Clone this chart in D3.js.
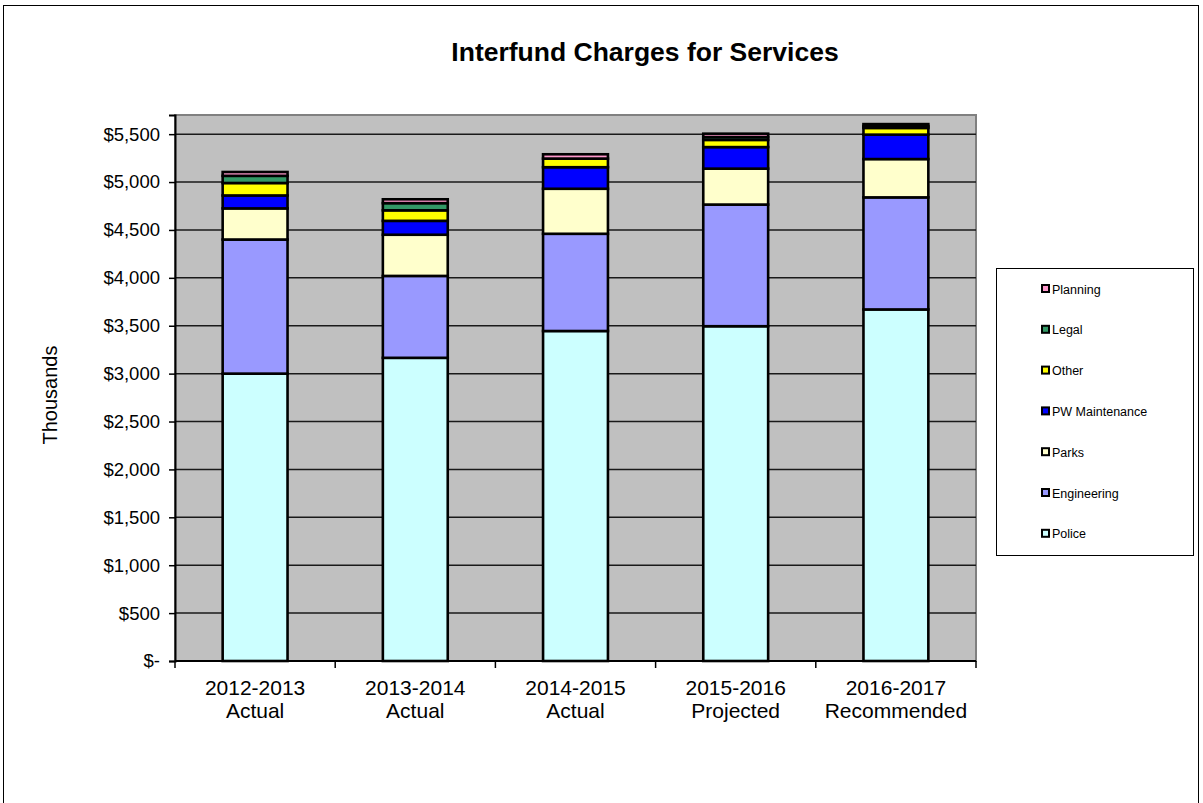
<!DOCTYPE html>
<html>
<head>
<meta charset="utf-8">
<script src="https://cdn.jsdelivr.net/npm/d3@7"></script>
<style>
  body { margin: 0; background: #fff; }
  text { font-family: "Liberation Sans", Arial, sans-serif; }
</style>
</head>
<body>
<div class="chart"></div>
<script>
// Chart data (thousands of dollars)
var categories = ["2012-2013|Actual", "2013-2014|Actual", "2014-2015|Actual", "2015-2016|Projected", "2016-2017|Recommended"];
var seriesNames = ["Police", "Engineering", "Parks", "PW Maintenance", "Other", "Legal", "Planning"];
var police = [3000, 3165, 3445, 3495, 3670];
var engineering = [1400, 855, 1015, 1270, 1170];
var parks = [325, 430, 470, 375, 400];
var pwMaintenance = [135, 145, 225, 225, 255];
var other = [130, 110, 90, 75, 70];
var legal = [75, 75, 0, 30, 20];
var planning = [40, 40, 45, 35, 20];
var yTicks = [0, 500, 1000, 1500, 2000, 2500, 3000, 3500, 4000, 4500, 5000, 5500];

var colors = {
  "Police": "#CCFFFF",
  "Engineering": "#9999FF",
  "Parks": "#FFFFCC",
  "PW Maintenance": "#0000FF",
  "Other": "#FFFF00",
  "Legal": "#339966",
  "Planning": "#FF99CC"
};

var svgWidth = 1203;
var svgHeight = 803;

var plot = { left: 175, right: 976, top: 115, bottom: 661 };

var svg = d3.select(".chart")
  .append("svg")
  .attr("width", svgWidth)
  .attr("height", svgHeight);

// outer frame
svg.append("rect")
  .attr("x", 3.5)
  .attr("y", 5.5)
  .attr("width", 1195)
  .attr("height", 810)
  .attr("fill", "none")
  .attr("stroke", "#000")
  .attr("stroke-width", 1);

// build table for the stack
var seriesValues = [police, engineering, parks, pwMaintenance, other, legal, planning];
var table = categories.map(function (c, i) {
  var row = { category: c };
  seriesNames.forEach(function (s, j) { row[s] = seriesValues[j][i]; });
  return row;
});

var stacked = d3.stack().keys(seriesNames)(table);

var xBand = d3.scaleBand()
  .domain(categories)
  .range([plot.left, plot.right])
  .padding(0);

var yLinearScale = d3.scaleLinear()
  .domain([0, 5700])
  .range([plot.bottom, plot.top]);

// plot area
svg.append("rect")
  .attr("x", plot.left)
  .attr("y", plot.top)
  .attr("width", plot.right - plot.left)
  .attr("height", plot.bottom - plot.top)
  .attr("fill", "#C0C0C0")
  .attr("stroke", "#808080")
  .attr("stroke-width", 2);

// gridlines
svg.append("g")
  .selectAll("line")
  .data(yTicks.slice(1))
  .enter()
  .append("line")
  .attr("x1", plot.left)
  .attr("x2", plot.right)
  .attr("y1", d => yLinearScale(d))
  .attr("y2", d => yLinearScale(d))
  .attr("stroke", "#1a1a1a")
  .attr("stroke-width", 1.5);

// bars
var barWidth = xBand.bandwidth() * 0.405;
svg.append("g")
  .selectAll("g")
  .data(stacked)
  .enter()
  .append("g")
  .attr("fill", d => colors[d.key])
  .selectAll("rect")
  .data(d => d)
  .enter()
  .append("rect")
  .attr("x", d => xBand(d.data.category) + (xBand.bandwidth() - barWidth) / 2)
  .attr("y", d => yLinearScale(d[1]))
  .attr("width", barWidth)
  .attr("height", d => yLinearScale(d[0]) - yLinearScale(d[1]))
  .attr("stroke", "#000")
  .attr("stroke-width", 2.6);

// y axis
var leftAxis = d3.axisLeft(yLinearScale)
  .tickValues(yTicks)
  .tickSize(6)
  .tickPadding(9)
  .tickFormat(d => d === 0 ? "$-" : "$" + d3.format(",")(d));

var yAxisG = svg.append("g")
  .attr("transform", `translate(${plot.left}, 0)`)
  .call(leftAxis);
yAxisG.select(".domain").attr("stroke", "#000").attr("stroke-width", 2);
yAxisG.selectAll(".tick line").attr("stroke", "#000").attr("stroke-width", 1.5);
yAxisG.selectAll(".tick text")
  .attr("font-size", "18.5px")
  .attr("fill", "#000")
  .style("font-family", "'Liberation Sans', Arial, sans-serif");

// x axis
svg.append("line")
  .attr("x1", plot.left)
  .attr("x2", plot.right)
  .attr("y1", plot.bottom)
  .attr("y2", plot.bottom)
  .attr("stroke", "#000")
  .attr("stroke-width", 2);

var xTickPos = categories.map(c => xBand(c)).concat([plot.right]);
svg.append("g")
  .selectAll("line")
  .data(xTickPos)
  .enter()
  .append("line")
  .attr("x1", d => d)
  .attr("x2", d => d)
  .attr("y1", plot.bottom)
  .attr("y2", plot.bottom + 7)
  .attr("stroke", "#000")
  .attr("stroke-width", 1.5);

var xLabels = svg.append("g")
  .selectAll("text")
  .data(categories)
  .enter()
  .append("text")
  .attr("text-anchor", "middle")
  .attr("font-size", "21px")
  .attr("fill", "#000");
xLabels.append("tspan")
  .attr("x", d => xBand(d) + xBand.bandwidth() / 2)
  .attr("y", 695)
  .text(d => d.split("|")[0]);
xLabels.append("tspan")
  .attr("x", d => xBand(d) + xBand.bandwidth() / 2)
  .attr("y", 718)
  .text(d => d.split("|")[1]);

// axis title
svg.append("text")
  .attr("transform", "rotate(-90)")
  .attr("x", -395)
  .attr("y", 57)
  .attr("text-anchor", "middle")
  .attr("font-size", "20px")
  .text("Thousands");

// chart title
svg.append("text")
  .attr("x", 645)
  .attr("y", 61)
  .attr("text-anchor", "middle")
  .attr("font-size", "26.5px")
  .attr("font-weight", "bold")
  .text("Interfund Charges for Services");

// legend
var legend = svg.append("g");
legend.append("rect")
  .attr("x", 996.5)
  .attr("y", 268.5)
  .attr("width", 197)
  .attr("height", 287)
  .attr("fill", "#fff")
  .attr("stroke", "#000")
  .attr("stroke-width", 1);

var legendItems = legend.selectAll(".item")
  .data(seriesNames.slice().reverse())
  .enter()
  .append("g")
  .attr("class", "item")
  .attr("transform", (d, i) => `translate(1042, ${289 + i * 40.8})`);

legendItems.append("rect")
  .attr("x", 0)
  .attr("y", -4)
  .attr("width", 7)
  .attr("height", 7)
  .attr("fill", d => colors[d])
  .attr("stroke", "#000")
  .attr("stroke-width", 2);

legendItems.append("text")
  .attr("x", 10)
  .attr("y", 4.5)
  .attr("font-size", "12.5px")
  .attr("fill", "#000")
  .text(d => d);
</script>
</body>
</html>
